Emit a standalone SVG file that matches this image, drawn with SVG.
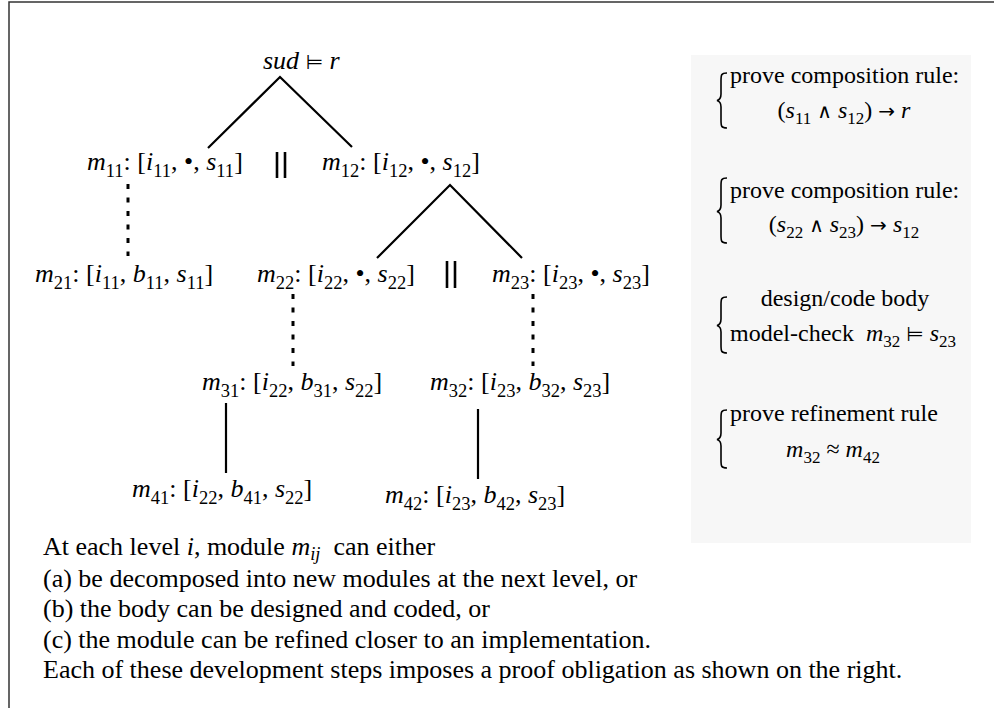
<svg xmlns="http://www.w3.org/2000/svg" width="994" height="708" viewBox="0 0 994 708">
<style>
text{font-family:"Liberation Serif","Times New Roman",serif;font-size:26px;fill:#000}
.i{font-style:italic}
.sub{font-size:18.5px}
.sym{font-family:"DejaVu Sans",sans-serif;font-size:20px}
.edge{stroke:#000;stroke-width:2.2;fill:none}
.dot{stroke:#000;stroke-width:3;stroke-dasharray:5 8.5;fill:none}
.par{stroke:#000;stroke-width:2.6}
.brace{stroke:#000;stroke-width:1.6;fill:none}
.c{text-anchor:middle}
.p text{font-size:24px}
.p .sub{font-size:17px}
</style>
<rect x="9" y="2" width="1000" height="720" fill="#fff" stroke="#333" stroke-width="1.5"/>
<rect x="691" y="55" width="280" height="488" fill="#f7f7f7"/>
<g id="connectors">
<path class="edge" d="M208,148 L280,77 L352,147"/>
<path class="edge" d="M377,258 L450,185 L522,258"/>
<line class="dot" x1="128" y1="184" x2="128" y2="256"/>
<line class="dot" x1="293" y1="294" x2="293" y2="366"/>
<line class="dot" x1="533" y1="294" x2="533" y2="366"/>
<line class="edge" x1="226" y1="403" x2="226" y2="473" stroke-width="2.6"/>
<line class="edge" x1="478" y1="409" x2="478" y2="479" stroke-width="2.6"/>
<line class="par" x1="277" y1="152" x2="277" y2="178"/>
<line class="par" x1="285" y1="152" x2="285" y2="178"/>
<line class="par" x1="447" y1="261" x2="447" y2="288"/>
<line class="par" x1="455" y1="261" x2="455" y2="288"/>
</g>
<g id="root"><text x="263" y="69"><tspan class="i">sud</tspan> <tspan class="sym">⊨</tspan> <tspan class="i">r</tspan></text></g>
<g id="m11"><text x="87" y="170"><tspan class="i">m</tspan><tspan class="sub" dy="7">11</tspan><tspan dy="-7">: [</tspan><tspan class="i">i</tspan><tspan class="sub" dy="7">11</tspan><tspan dy="-7">, •, </tspan><tspan class="i">s</tspan><tspan class="sub" dy="7">11</tspan><tspan dy="-7">]</tspan></text></g>
<g id="m12"><text x="322" y="170"><tspan class="i">m</tspan><tspan class="sub" dy="7">12</tspan><tspan dy="-7">: [</tspan><tspan class="i">i</tspan><tspan class="sub" dy="7">12</tspan><tspan dy="-7">, •, </tspan><tspan class="i">s</tspan><tspan class="sub" dy="7">12</tspan><tspan dy="-7">]</tspan></text></g>
<g id="m21"><text x="35" y="282"><tspan class="i">m</tspan><tspan class="sub" dy="7">21</tspan><tspan dy="-7">: [</tspan><tspan class="i">i</tspan><tspan class="sub" dy="7">11</tspan><tspan dy="-7">, </tspan><tspan class="i">b</tspan><tspan class="sub" dy="7">11</tspan><tspan dy="-7">, </tspan><tspan class="i">s</tspan><tspan class="sub" dy="7">11</tspan><tspan dy="-7">]</tspan></text></g>
<g id="m22"><text x="257" y="282"><tspan class="i">m</tspan><tspan class="sub" dy="7">22</tspan><tspan dy="-7">: [</tspan><tspan class="i">i</tspan><tspan class="sub" dy="7">22</tspan><tspan dy="-7">, •, </tspan><tspan class="i">s</tspan><tspan class="sub" dy="7">22</tspan><tspan dy="-7">]</tspan></text></g>
<g id="m23"><text x="492" y="282"><tspan class="i">m</tspan><tspan class="sub" dy="7">23</tspan><tspan dy="-7">: [</tspan><tspan class="i">i</tspan><tspan class="sub" dy="7">23</tspan><tspan dy="-7">, •, </tspan><tspan class="i">s</tspan><tspan class="sub" dy="7">23</tspan><tspan dy="-7">]</tspan></text></g>
<g id="m31"><text x="202" y="390"><tspan class="i">m</tspan><tspan class="sub" dy="7">31</tspan><tspan dy="-7">: [</tspan><tspan class="i">i</tspan><tspan class="sub" dy="7">22</tspan><tspan dy="-7">, </tspan><tspan class="i">b</tspan><tspan class="sub" dy="7">31</tspan><tspan dy="-7">, </tspan><tspan class="i">s</tspan><tspan class="sub" dy="7">22</tspan><tspan dy="-7">]</tspan></text></g>
<g id="m32"><text x="430" y="390"><tspan class="i">m</tspan><tspan class="sub" dy="7">32</tspan><tspan dy="-7">: [</tspan><tspan class="i">i</tspan><tspan class="sub" dy="7">23</tspan><tspan dy="-7">, </tspan><tspan class="i">b</tspan><tspan class="sub" dy="7">32</tspan><tspan dy="-7">, </tspan><tspan class="i">s</tspan><tspan class="sub" dy="7">23</tspan><tspan dy="-7">]</tspan></text></g>
<g id="m41"><text x="132" y="497"><tspan class="i">m</tspan><tspan class="sub" dy="7">41</tspan><tspan dy="-7">: [</tspan><tspan class="i">i</tspan><tspan class="sub" dy="7">22</tspan><tspan dy="-7">, </tspan><tspan class="i">b</tspan><tspan class="sub" dy="7">41</tspan><tspan dy="-7">, </tspan><tspan class="i">s</tspan><tspan class="sub" dy="7">22</tspan><tspan dy="-7">]</tspan></text></g>
<g id="m42"><text x="385" y="503"><tspan class="i">m</tspan><tspan class="sub" dy="7">42</tspan><tspan dy="-7">: [</tspan><tspan class="i">i</tspan><tspan class="sub" dy="7">23</tspan><tspan dy="-7">, </tspan><tspan class="i">b</tspan><tspan class="sub" dy="7">42</tspan><tspan dy="-7">, </tspan><tspan class="i">s</tspan><tspan class="sub" dy="7">23</tspan><tspan dy="-7">]</tspan></text></g>
<g id="obligations" class="p">
<path class="brace" d="M727,73 C721,73 721,75 721,81 L721,94 C721,98 719,100 717,100.5 C719,101 721,103 721,107 L721,120 C721,126 721,128 727,128"/>
<path class="brace" d="M727,178 C721,178 721,180 721,186 L721,205 C721,209 719,211 717,211.5 C719,212 721,214 721,218 L721,235 C721,241 721,243 727,243"/>
<path class="brace" d="M727,297 C721,297 721,299 721,305 L721,319 C721,323 719,325 717,325.5 C719,326 721,328 721,332 L721,345 C721,351 721,353 727,353"/>
<path class="brace" d="M727,410 C721,410 721,412 721,418 L721,433 C721,437 719,439 717,439.5 C719,440 721,442 721,446 L721,460 C721,466 721,468 727,468"/>
<text x="730" y="83">prove composition rule:</text>
<text x="844" y="118" class="c">(<tspan class="i">s</tspan><tspan class="sub" dy="6">11</tspan><tspan dy="-6"> </tspan><tspan class="sym" font-size="18">∧</tspan> <tspan class="i">s</tspan><tspan class="sub" dy="6">12</tspan><tspan dy="-6">) </tspan><tspan class="sym" font-size="25">→</tspan> <tspan class="i">r</tspan></text>
<text x="730" y="198">prove composition rule:</text>
<text x="844" y="232" class="c">(<tspan class="i">s</tspan><tspan class="sub" dy="6">22</tspan><tspan dy="-6"> </tspan><tspan class="sym" font-size="18">∧</tspan> <tspan class="i">s</tspan><tspan class="sub" dy="6">23</tspan><tspan dy="-6">) </tspan><tspan class="sym" font-size="25">→</tspan> <tspan class="i">s</tspan><tspan class="sub" dy="6">12</tspan></text>
<text x="845" y="306" class="c">design/code body</text>
<text x="730" y="341" xml:space="preserve">model-check  <tspan class="i">m</tspan><tspan class="sub" dy="6">32</tspan><tspan dy="-6"> </tspan><tspan class="sym">⊨</tspan> <tspan class="i">s</tspan><tspan class="sub" dy="6">23</tspan></text>
<text x="730" y="421">prove refinement rule</text>
<text x="833" y="457" class="c"><tspan class="i">m</tspan><tspan class="sub" dy="6">32</tspan><tspan dy="-6"> ≈ </tspan><tspan class="i">m</tspan><tspan class="sub" dy="6">42</tspan></text>
</g>
<g id="caption">
<text x="43" y="555">At each level <tspan class="i">i</tspan>, module <tspan class="i">m</tspan><tspan class="sub i" dy="4.5">ij</tspan><tspan dy="-4.5" xml:space="preserve">  can either</tspan></text>
<text x="43" y="587">(a) be decomposed into new modules at the next level, or</text>
<text x="43" y="617">(b) the body can be designed and coded, or</text>
<text x="43" y="648">(c) the module can be refined closer to an implementation.</text>
<text x="43" y="678">Each of these development steps imposes a proof obligation as shown on the right.</text>
</g>
</svg>
